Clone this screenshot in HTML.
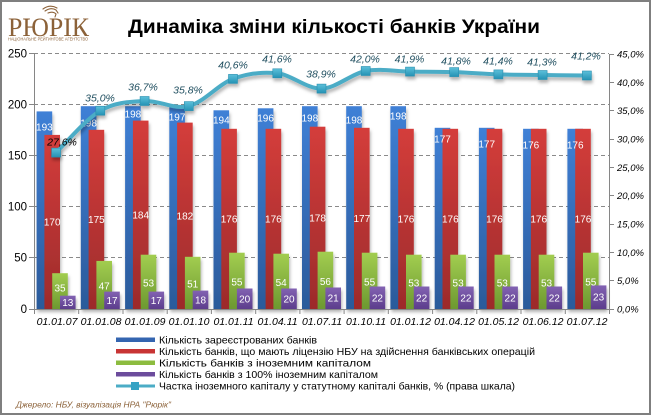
<!DOCTYPE html>
<html>
<head>
<meta charset="utf-8">
<style>
html,body{margin:0;padding:0;background:#fff;}
svg{display:block;}
text{font-family:"Liberation Sans","DejaVu Sans",sans-serif;}
</style>
</head>
<body>
<svg width="651" height="415" viewBox="0 0 651 415" xmlns="http://www.w3.org/2000/svg">
<defs>
<linearGradient id="gB" x1="0" y1="0" x2="0" y2="1"><stop offset="0" stop-color="#3f80d6"/><stop offset="1" stop-color="#2b5a9a"/></linearGradient>
<linearGradient id="gR" x1="0" y1="0" x2="0" y2="1"><stop offset="0" stop-color="#d43d3b"/><stop offset="1" stop-color="#9c2b2b"/></linearGradient>
<linearGradient id="gG" x1="0" y1="0" x2="0" y2="1"><stop offset="0" stop-color="#a2cd50"/><stop offset="1" stop-color="#6c9830"/></linearGradient>
<linearGradient id="gP" x1="0" y1="0" x2="0" y2="1"><stop offset="0" stop-color="#8262b2"/><stop offset="1" stop-color="#5c3d8c"/></linearGradient>
<linearGradient id="gM" x1="0" y1="0" x2="0" y2="1"><stop offset="0" stop-color="#5cc0da"/><stop offset="1" stop-color="#2592b4"/></linearGradient>
<filter id="sh" x="-20%" y="-20%" width="140%" height="160%"><feDropShadow dx="1" dy="3" stdDeviation="1.5" flood-color="#000" flood-opacity="0.3"/></filter>
</defs>
<rect x="0" y="0" width="651" height="415" fill="#fff"/>
<rect x="1" y="1" width="649" height="413" fill="none" stroke="#7f7f7f" stroke-width="2"/>

<!-- logo -->
<g fill="#8c6239">
<text x="8" y="36" font-family="Liberation Serif, serif" font-size="26" textLength="81" lengthAdjust="spacingAndGlyphs" style="font-family:'Liberation Serif',serif">РЮРІК</text>
<text x="8" y="40.5" font-size="4.3" textLength="80" lengthAdjust="spacingAndGlyphs">НАЦІОНАЛЬНЕ РЕЙТИНГОВЕ АГЕНТСТВО</text>
</g>
<g fill="none" stroke="#8c6239" stroke-width="1.1" stroke-linecap="round">
<path d="M43 9 Q50 4 57 8"/>
<path d="M45 11 Q51 7 56 10 L58 13"/>
<path d="M48 13 Q53 11 56 14 L55 17"/>
</g>

<!-- title -->
<text x="128" y="33" font-size="19" font-weight="bold" fill="#000" textLength="412" lengthAdjust="spacingAndGlyphs">Динаміка зміни кількості банків України</text>

<!-- gridlines -->
<g stroke="#8a8a8a" stroke-width="1" stroke-dasharray="4,3">
<line x1="34" y1="53.5" x2="609" y2="53.5"/>
<line x1="34" y1="104.5" x2="609" y2="104.5"/>
<line x1="34" y1="155.5" x2="609" y2="155.5"/>
<line x1="34" y1="206.5" x2="609" y2="206.5"/>
<line x1="34" y1="257.5" x2="609" y2="257.5"/>
</g>

<!-- bars -->
<g filter="url(#sh)">
<g fill="url(#gB)">
<rect x="36.6" y="111.4" width="15.6" height="197.6"/>
<rect x="80.8" y="106.2" width="15.6" height="202.8"/>
<rect x="125.1" y="106.2" width="15.6" height="202.8"/>
<rect x="169.3" y="107.3" width="15.6" height="201.7"/>
<rect x="213.5" y="110.3" width="15.6" height="198.7"/>
<rect x="257.8" y="108.3" width="15.6" height="200.7"/>
<rect x="302.0" y="106.2" width="15.6" height="202.8"/>
<rect x="346.2" y="106.2" width="15.6" height="202.8"/>
<rect x="390.4" y="106.2" width="15.6" height="202.8"/>
<rect x="434.7" y="127.8" width="15.6" height="181.2"/>
<rect x="478.9" y="127.8" width="15.6" height="181.2"/>
<rect x="523.1" y="128.8" width="15.6" height="180.2"/>
<rect x="567.4" y="128.8" width="15.6" height="180.2"/>
</g>
<g fill="url(#gR)">
<rect x="44.4" y="134.9" width="15.6" height="174.1"/>
<rect x="88.6" y="129.8" width="15.6" height="179.2"/>
<rect x="132.9" y="120.6" width="15.6" height="188.4"/>
<rect x="177.1" y="122.6" width="15.6" height="186.4"/>
<rect x="221.3" y="128.8" width="15.6" height="180.2"/>
<rect x="265.6" y="128.8" width="15.6" height="180.2"/>
<rect x="309.8" y="126.7" width="15.6" height="182.3"/>
<rect x="354.0" y="127.8" width="15.6" height="181.2"/>
<rect x="398.2" y="128.8" width="15.6" height="180.2"/>
<rect x="442.5" y="128.8" width="15.6" height="180.2"/>
<rect x="486.7" y="128.8" width="15.6" height="180.2"/>
<rect x="530.9" y="128.8" width="15.6" height="180.2"/>
<rect x="575.2" y="128.8" width="15.6" height="180.2"/>
</g>
<g fill="url(#gG)">
<rect x="52.2" y="273.2" width="15.6" height="35.8"/>
<rect x="96.4" y="260.9" width="15.6" height="48.1"/>
<rect x="140.7" y="254.7" width="15.6" height="54.3"/>
<rect x="184.9" y="256.8" width="15.6" height="52.2"/>
<rect x="229.1" y="252.7" width="15.6" height="56.3"/>
<rect x="273.4" y="253.7" width="15.6" height="55.3"/>
<rect x="317.6" y="251.7" width="15.6" height="57.3"/>
<rect x="361.8" y="252.7" width="15.6" height="56.3"/>
<rect x="406.0" y="254.7" width="15.6" height="54.3"/>
<rect x="450.3" y="254.7" width="15.6" height="54.3"/>
<rect x="494.5" y="254.7" width="15.6" height="54.3"/>
<rect x="538.7" y="254.7" width="15.6" height="54.3"/>
<rect x="583.0" y="252.7" width="15.6" height="56.3"/>
</g>
<g fill="url(#gP)">
<rect x="60.0" y="295.7" width="15.6" height="13.3"/>
<rect x="104.2" y="291.6" width="15.6" height="17.4"/>
<rect x="148.5" y="291.6" width="15.6" height="17.4"/>
<rect x="192.7" y="290.6" width="15.6" height="18.4"/>
<rect x="236.9" y="288.5" width="15.6" height="20.5"/>
<rect x="281.2" y="288.5" width="15.6" height="20.5"/>
<rect x="325.4" y="287.5" width="15.6" height="21.5"/>
<rect x="369.6" y="286.5" width="15.6" height="22.5"/>
<rect x="413.8" y="286.5" width="15.6" height="22.5"/>
<rect x="458.1" y="286.5" width="15.6" height="22.5"/>
<rect x="502.3" y="286.5" width="15.6" height="22.5"/>
<rect x="546.5" y="286.5" width="15.6" height="22.5"/>
<rect x="590.8" y="285.4" width="15.6" height="23.6"/>
</g>
</g>

<!-- bar labels -->
<g fill="#fff" font-size="10" text-anchor="middle">
<text x="44.4" y="130.5">193</text>
<text x="88.6" y="126.5">198</text>
<text x="132.9" y="117.5">198</text>
<text x="177.1" y="120.5">197</text>
<text x="221.3" y="123.5">194</text>
<text x="265.6" y="121.5">196</text>
<text x="309.8" y="121.5">198</text>
<text x="354.0" y="123.5">198</text>
<text x="398.2" y="119.5">198</text>
<text x="442.5" y="142.5">177</text>
<text x="486.7" y="147.5">177</text>
<text x="530.9" y="148.5">176</text>
<text x="575.2" y="148.5">176</text>

<text x="52.2" y="225.5">170</text>
<text x="96.4" y="222.9">175</text>
<text x="140.7" y="218.3">184</text>
<text x="184.9" y="219.3">182</text>
<text x="229.1" y="222.4">176</text>
<text x="273.4" y="222.4">176</text>
<text x="317.6" y="221.4">178</text>
<text x="361.8" y="221.9">177</text>
<text x="406.0" y="222.4">176</text>
<text x="450.3" y="222.4">176</text>
<text x="494.5" y="222.4">176</text>
<text x="538.7" y="222.4">176</text>
<text x="583.0" y="222.4">176</text>

<text x="60.0" y="291.5">35</text>
<text x="104.2" y="289.5">47</text>
<text x="148.5" y="286.4">53</text>
<text x="192.7" y="287.4">51</text>
<text x="236.9" y="285.4">55</text>
<text x="281.2" y="285.9">54</text>
<text x="325.4" y="284.9">56</text>
<text x="369.6" y="285.4">55</text>
<text x="413.8" y="286.4">53</text>
<text x="458.1" y="286.4">53</text>
<text x="502.3" y="286.4">53</text>
<text x="546.5" y="286.4">53</text>
<text x="590.8" y="285.4">55</text>

<text x="67.8" y="305.8">13</text>
<text x="112.0" y="303.8">17</text>
<text x="156.3" y="303.8">17</text>
<text x="200.5" y="303.3">18</text>
<text x="244.7" y="302.3">20</text>
<text x="289.0" y="302.3">20</text>
<text x="333.2" y="301.7">21</text>
<text x="377.4" y="301.3">22</text>
<text x="421.6" y="301.3">22</text>
<text x="465.9" y="301.3">22</text>
<text x="510.1" y="301.3">22</text>
<text x="554.3" y="301.3">22</text>
<text x="598.6" y="300.7">23</text>
</g>

<!-- axes -->
<g stroke="#868686" stroke-width="1" fill="none">
<line x1="34.5" y1="53" x2="34.5" y2="309"/>
<line x1="34" y1="309.5" x2="609" y2="309.5"/>
<line x1="609.5" y1="54" x2="609.5" y2="309"/>
<path d="M29 53.5H34M29 104.5H34M29 155.5H34M29 206.5H34M29 257.5H34M29 309.5H34"/>
<path d="M609 54.5H614M609 82.5H614M609 110.5H614M609 139.5H614M609 167.5H614M609 195.5H614M609 224.5H614M609 252.5H614M609 280.5H614M609 309.5H614"/>
<path d="M34.5 309V314M78.7 309V314M123 309V314M167.2 309V314M211.4 309V314M255.7 309V314M299.9 309V314M344.1 309V314M388.3 309V314M432.6 309V314M476.8 309V314M521 309V314M565.3 309V314M609.5 309V314"/>
</g>

<!-- left axis labels -->
<g fill="#000" font-size="11.5" text-anchor="end">
<text x="27" y="57.5">250</text>
<text x="27" y="108.5">200</text>
<text x="27" y="159.5">150</text>
<text x="27" y="210.5">100</text>
<text x="27" y="261.5">50</text>
<text x="27" y="313">0</text>
</g>

<!-- right axis labels -->
<g fill="#000" font-size="9.5" font-style="italic">
<text x="617" y="57.5">45,0%</text>
<text x="617" y="85.8">40,0%</text>
<text x="617" y="114.2">35,0%</text>
<text x="617" y="142.5">30,0%</text>
<text x="617" y="170.8">25,0%</text>
<text x="617" y="199.2">20,0%</text>
<text x="617" y="227.5">15,0%</text>
<text x="617" y="255.8">10,0%</text>
<text x="617" y="284.2">5,0%</text>
<text x="617" y="312.5">0,0%</text>
</g>

<!-- x labels -->
<g fill="#000" font-size="10.5" font-style="italic" text-anchor="middle">
<text x="57" y="325">01.01.07</text>
<text x="101" y="325">01.01.08</text>
<text x="145" y="325">01.01.09</text>
<text x="189" y="325">01.01.10</text>
<text x="233.5" y="325">01.01.11</text>
<text x="277.5" y="325">01.04.11</text>
<text x="322" y="325">01.07.11</text>
<text x="366" y="325">01.10.11</text>
<text x="410.5" y="325">01.01.12</text>
<text x="454.5" y="325">01.04.12</text>
<text x="498.5" y="325">01.05.12</text>
<text x="543" y="325">01.06.12</text>
<text x="587" y="325">01.07.12</text>
</g>

<!-- line series -->
<g filter="url(#sh)">
<path d="M56.1,152.6 C63.47,145.62 85.56,119.3 100.3,110.7 C115.04,102.1 129.86,101.77 144.6,101.0 C159.34,100.23 174.06,109.78 188.8,106.1 C203.54,102.42 218.26,84.37 233.0,78.9 C247.74,73.43 262.56,71.68 277.3,73.3 C292.04,74.92 306.76,88.98 321.5,88.6 C336.24,88.22 350.96,73.83 365.7,71.0 C380.44,68.17 395.26,71.42 410.0,71.6 C424.74,71.78 439.46,71.63 454.2,72.1 C468.94,72.57 483.66,73.92 498.4,74.4 C513.14,74.88 527.86,74.82 542.6,75.0 C557.34,75.18 579.53,75.42 586.9,75.5" fill="none" stroke="#4bacc6" stroke-width="4" stroke-linecap="round"/>
<g fill="url(#gM)" stroke="#2a8fb0" stroke-width="0.6">
<rect x="51.6" y="148.1" width="9" height="9"/>
<rect x="95.8" y="106.2" width="9" height="9"/>
<rect x="140.1" y="96.5" width="9" height="9"/>
<rect x="184.3" y="101.6" width="9" height="9"/>
<rect x="228.5" y="74.4" width="9" height="9"/>
<rect x="272.8" y="68.8" width="9" height="9"/>
<rect x="317.0" y="84.1" width="9" height="9"/>
<rect x="361.2" y="66.5" width="9" height="9"/>
<rect x="405.5" y="67.1" width="9" height="9"/>
<rect x="449.7" y="67.6" width="9" height="9"/>
<rect x="493.9" y="69.9" width="9" height="9"/>
<rect x="538.1" y="70.5" width="9" height="9"/>
<rect x="582.4" y="71.0" width="9" height="9"/>
</g>
</g>

<!-- line labels -->
<g fill="#1f4e5f" font-size="10.5" font-style="italic" text-anchor="middle">
<text x="62" y="145.5" fill="#000">27,6%</text>
<text x="100" y="101.5">35,0%</text>
<text x="143" y="90.5">36,7%</text>
<text x="188" y="93.5">35,8%</text>
<text x="233" y="68.5">40,6%</text>
<text x="277" y="62.5">41,6%</text>
<text x="321" y="77.5">38,9%</text>
<text x="365" y="62.5">42,0%</text>
<text x="409.5" y="62.5">41,9%</text>
<text x="456" y="64.5">41,8%</text>
<text x="498" y="64.5">41,4%</text>
<text x="542" y="65.5">41,3%</text>
<text x="586" y="59.5">41,2%</text>
</g>

<!-- legend -->
<rect x="116" y="337.5" width="39" height="4.5" fill="#3465b0"/>
<rect x="116" y="349" width="39" height="4.5" fill="#c83434"/>
<rect x="116" y="360.5" width="39" height="4.5" fill="#8cbc3f"/>
<rect x="116" y="372" width="39" height="4.5" fill="#6c4c9c"/>
<line x1="116" y1="386" x2="155" y2="386" stroke="#4bacc6" stroke-width="3"/>
<rect x="131" y="382" width="8" height="8" fill="#36a3c4"/>
<g fill="#000" font-size="10.5">
<text x="159" y="343.5" textLength="158" lengthAdjust="spacingAndGlyphs">Кількість зареєстрованих банків</text>
<text x="159" y="355" textLength="376" lengthAdjust="spacingAndGlyphs">Кількість банків, що мають ліцензію НБУ на здійснення банківських операцій</text>
<text x="159" y="366.5" textLength="212" lengthAdjust="spacingAndGlyphs">Кількість банків з іноземним капіталом</text>
<text x="159" y="378" textLength="219" lengthAdjust="spacingAndGlyphs">Кількість банків з 100% іноземним капіталом</text>
<text x="159" y="389.5" textLength="356" lengthAdjust="spacingAndGlyphs">Частка іноземного капіталу у статутному капіталі банків, % (права шкала)</text>
</g>

<!-- footer -->
<text x="16" y="407.5" font-size="8.5" font-style="italic" fill="#8c6239" textLength="155" lengthAdjust="spacingAndGlyphs">Джерело: НБУ, візуалізація НРА "Рюрік"</text>
</svg>
</body>
</html>
